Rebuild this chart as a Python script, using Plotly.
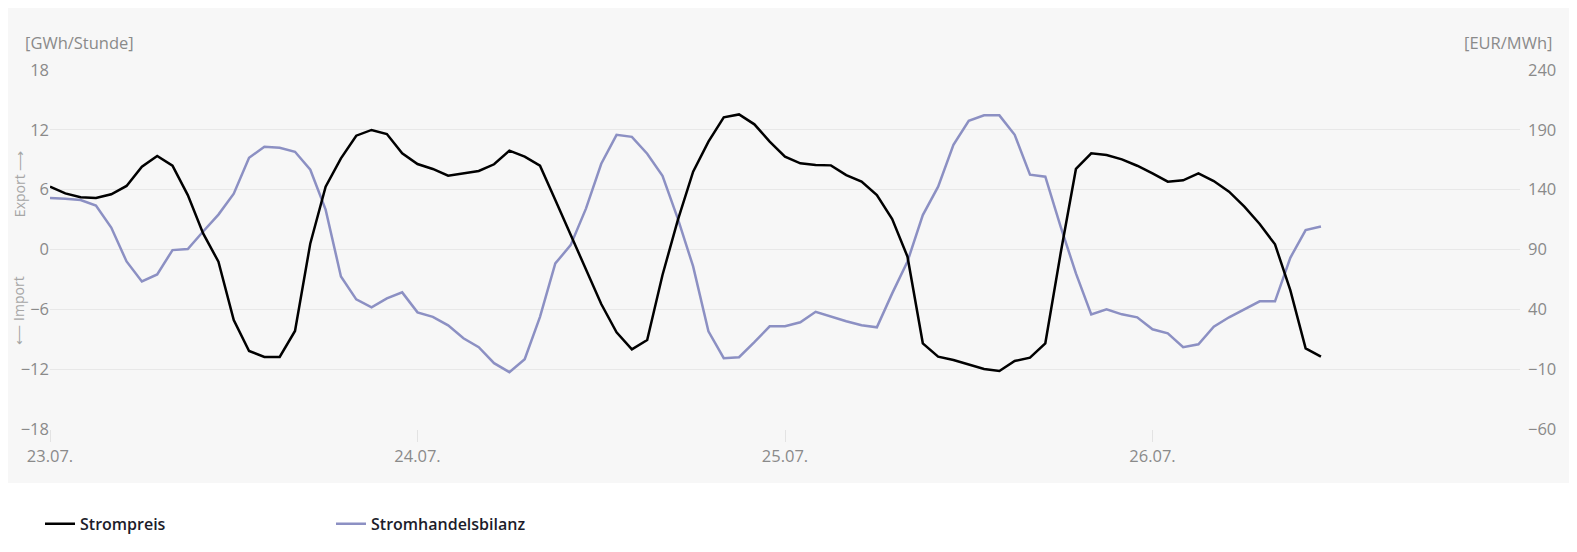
import pandas as pd
import plotly.graph_objects as go

# hourly values, 23.07. 00:00 onwards
hours = pd.date_range("2023-07-23 00:00", periods=84, freq="h")
day_ticks = pd.date_range("2023-07-23", periods=4, freq="D")

# Strompreis [EUR/MWh]
strompreis = [
    142.5, 136.9, 133.6, 133.0, 136.1, 143.1, 159.2, 168.1, 160.0, 135.5,
    103.5, 79.8, 31.1, 5.2, 0.2, 0.2, 21.9, 95.1, 142.5, 166.2,
    185.1, 189.9, 186.5, 170.4, 161.4,
    157.3, 151.7, 153.4, 155.6, 161.2, 172.6, 167.6, 160.0, 131.4, 102.1,
    74.3, 44.4, 20.8, 6.6, 14.4, 68.7, 114.6, 155.0, 180.1, 200.4,
    202.9, 194.6, 180.1, 167.6, 162.0, 160.6,
    160.3, 152.2, 146.7, 135.5, 115.5, 84.0, 11.6, 0.4, -2.4, -6.0,
    -9.9, -11.5, -3.2, -0.4, 11.6, 86.8, 157.3, 170.4, 169.0, 165.3,
    160.0, 153.6,
    146.7, 147.8, 153.6, 147.2, 138.3, 125.8, 111.3, 94.3, 56.1, 7.4, 0.4,
]

# Stromhandelsbilanz [GWh/Stunde], + = Export, - = Import
bilanz = [
    5.16, 5.1, 4.96, 4.4, 2.2, -1.2, -3.2, -2.5, -0.06, 0.04,
    1.8, 3.5, 5.6, 9.2, 10.3, 10.2, 9.8, 8.0, 4.0, -2.7,
    -5.0, -5.8, -4.9, -4.3, -6.3,
    -6.75, -7.6, -8.9, -9.8, -11.4, -12.3, -11.0, -6.75, -1.4, 0.44,
    4.1, 8.6, 11.5, 11.3, 9.6, 7.4, 3.1, -1.7, -8.2, -10.9,
    -10.8, -9.3, -7.7, -7.7, -7.3, -6.25,
    -6.75, -7.2, -7.6, -7.8, -4.4, -1.2, 3.45, 6.3, 10.5, 12.9,
    13.45, 13.45, 11.5, 7.5, 7.3, 2.3, -2.4, -6.5, -6.0, -6.5,
    -6.8, -8.0,
    -8.4, -9.8, -9.5, -7.75, -6.8, -6.0, -5.2, -5.2, -0.83, 1.95, 2.3,
]

grey = "#8a8a8a"
panel = "#f7f7f7"
tick_font = dict(family="Open Sans", size=16.5, color=grey)
unit_font = dict(family="Open Sans", size=16.5, color=grey)
side_font = dict(family="Open Sans", size=14, color="#a6a6a6")

fig = go.Figure()

fig.add_trace(go.Scatter(
    x=hours, y=strompreis, name="Strompreis", yaxis="y2",
    mode="lines", line=dict(color="#000000", width=2.5),
))
fig.add_trace(go.Scatter(
    x=hours, y=bilanz, name="Stromhandelsbilanz",
    mode="lines", line=dict(color="#8c90c3", width=2.5),
))

# grey panel behind the plot area
fig.add_shape(type="rect", xref="paper", yref="paper",
              x0=-0.0286, x1=1.034, y0=-0.1504, y1=1.1866,
              fillcolor=panel, line_width=0, layer="below")

fig.update_layout(
    width=1577, height=552,
    margin=dict(l=42, r=65, t=62, b=131),
    paper_bgcolor="white",
    plot_bgcolor=panel,
    font=dict(family="Open Sans", color=grey),
    showlegend=True,
    legend=dict(
        orientation="h", x=-0.0068, xanchor="left", y=-0.264, yanchor="middle",
        font=dict(family="Open Sans", size=16, color="#1c1c2a", weight=600),
        itemwidth=30, entrywidth=246, entrywidthmode="pixels",
        bgcolor="rgba(0,0,0,0)",
    ),
    xaxis=dict(
        range=[hours[0], pd.Timestamp("2023-07-27 00:00")],
        tickvals=day_ticks, tickformat="%d.%m.",
        ticks="outside", ticklen=12, tickcolor="#e3e3e3",
        showgrid=False, showline=False, zeroline=False,
        tickfont=tick_font,
    ),
    yaxis=dict(
        range=[-18, 18], dtick=6, tick0=-18,
        gridcolor="#e8e8e8", gridwidth=1, zeroline=False,
        tickfont=tick_font, ticks="",
    ),
    yaxis2=dict(
        range=[-60, 240], dtick=50, tick0=-60,
        overlaying="y", side="right", showgrid=False, zeroline=False,
        tickfont=tick_font, ticks="", ticklabelstandoff=7,
    ),
    annotations=[
        dict(text="[GWh/Stunde]", xref="paper", yref="paper",
             x=-0.0184, y=1.0766, xanchor="left", yanchor="middle",
             showarrow=False, font=unit_font),
        dict(text="[EUR/MWh]", xref="paper", yref="paper",
             x=1.0231, y=1.0766, xanchor="right", yanchor="middle",
             showarrow=False, font=unit_font),
        dict(text="⟵ Import", xref="paper", yref="paper",
             x=-0.0211, y=0.33, xanchor="center", yanchor="middle", textangle=-90,
             showarrow=False, font=side_font),
        dict(text="Export ⟶", xref="paper", yref="paper",
             x=-0.0211, y=0.682, xanchor="center", yanchor="middle", textangle=-90,
             showarrow=False, font=side_font),
    ],
)

fig.write_html("out.html")
